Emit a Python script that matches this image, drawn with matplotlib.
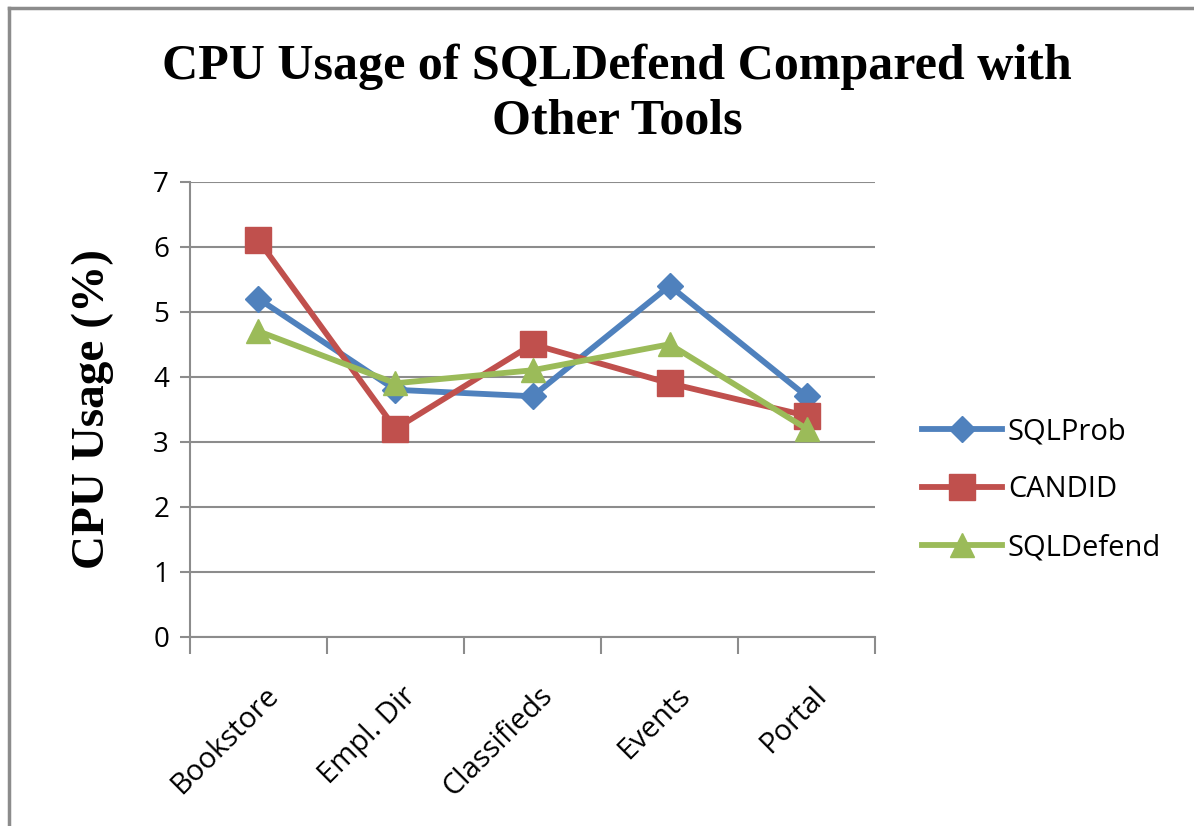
import matplotlib
matplotlib.use('Agg')

import matplotlib.pyplot as plt
from matplotlib.lines import Line2D

# Data
categories = ['Bookstore', 'Empl. Dir', 'Classifieds', 'Events', 'Portal']
sqlprob = [5.2, 3.8, 3.7, 5.4, 3.7]
candid = [6.1, 3.2, 4.5, 3.9, 3.4]
sqldefend = [4.7, 3.9, 4.1, 4.5, 3.2]
series_names = ['SQLProb', 'CANDID', 'SQLDefend']
y_ticks = [0, 1, 2, 3, 4, 5, 6, 7]

colors = ['#4F81BD', '#C0504D', '#9BBB59']
markers = ['D', 's', '^']
marker_sizes = [13, 19, 17]

fig = plt.figure(figsize=(11.94, 8.26), dpi=100)
ax = fig.add_axes([0.159, 0.229, 0.574, 0.551])

x = list(range(len(categories)))
for vals, name, c, m, ms in zip([sqlprob, candid, sqldefend], series_names, colors, markers, marker_sizes):
    ax.plot(x, vals, color=c, marker=m, markersize=ms, linewidth=4.2, label=name,
            markeredgecolor=c, zorder=3)

# Axes styling (Excel 2007 look)
ax.set_xlim(-0.5, len(categories) - 0.5)
ax.set_ylim(0, 7)
ax.set_yticks(y_ticks)
ax.set_yticklabels([str(v) for v in y_ticks], fontsize=20, family='Open Sans')
ax.yaxis.grid(True, color='#8c8c8c', linewidth=1.5)
ax.set_axisbelow(True)
for s in ['top', 'right']:
    ax.spines[s].set_visible(False)
for s in ['left', 'bottom']:
    ax.spines[s].set_color('#8c8c8c')
    ax.spines[s].set_linewidth(1.5)
ax.tick_params(axis='y', length=7, width=1.5, color='#8c8c8c', pad=8)

# category ticks sit between the categories
ax.set_xticks([i - 0.5 for i in range(len(categories) + 1)])
ax.set_xticklabels([])
ax.tick_params(axis='x', length=12, width=1.5, color='#8c8c8c', direction='out')
for i, lab in enumerate(categories):
    ax.annotate(lab, xy=(i, 0), xycoords=('data', 'axes fraction'), xytext=(4, -32),
                textcoords='offset points', rotation=45, ha='right', va='top',
                rotation_mode='anchor', fontsize=21, family='Open Sans')

ax.set_ylabel('CPU Usage (%)', fontsize=34, fontweight='bold', family='Liberation Serif', labelpad=28)

fig.text(0.517, 0.886, 'CPU Usage of SQLDefend Compared with\nOther Tools', ha='center', va='center',
         fontsize=36, fontweight='bold', family='Liberation Serif', linespacing=1.25)

handles = [Line2D([], [], color=c, marker=m, markersize=ms, linewidth=4.2) for c, m, ms in
           zip(colors, markers, marker_sizes)]
fig.legend(handles, series_names, loc='center left', bbox_to_anchor=(0.75, 0.407), frameon=False,
           prop={'family': 'Open Sans', 'size': 21}, handlelength=2.75, labelspacing=1.0,
           handletextpad=0.2)

# outer chart border (left and top edges visible)
fig.add_artist(plt.Line2D([0.0075, 0.0075], [0, 0.99], transform=fig.transFigure, color='#8c8c8c', linewidth=2.5))
fig.add_artist(plt.Line2D([0.0075, 1.0], [0.99, 0.99], transform=fig.transFigure, color='#8c8c8c', linewidth=2.5))

fig.savefig('out.png', dpi=100)
